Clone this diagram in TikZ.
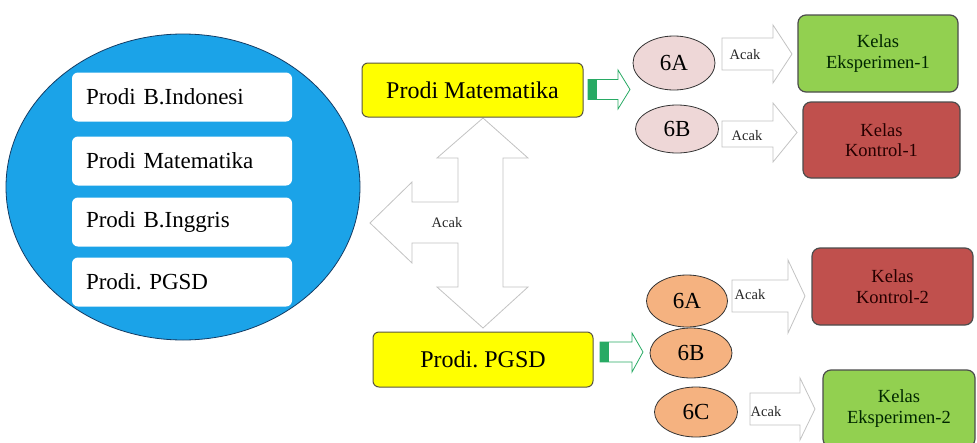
\documentclass[tikz,border=0pt]{standalone}
\usepackage{fontspec}
\setmainfont{Liberation Serif}
\usetikzlibrary{shapes.geometric}
\definecolor{cblue}{RGB}{27,163,232}
\definecolor{cblueline}{RGB}{20,60,100}
\definecolor{cyellow}{RGB}{255,255,0}
\definecolor{cpink}{RGB}{238,215,215}
\definecolor{cpeach}{RGB}{245,178,128}
\definecolor{cgreen}{RGB}{146,208,80}
\definecolor{cred}{RGB}{192,80,77}
\definecolor{carrowgreen}{RGB}{40,170,100}
\definecolor{cgrayline}{RGB}{195,195,195}
\tikzset{
  wbox/.style={rectangle, rounded corners=6pt, fill=white, minimum height=49pt,
    text width=192pt, inner xsep=14pt, align=left, font=\fontsize{23}{25}\selectfont},
  ybox/.style={rectangle, rounded corners=6pt, fill=cyellow, draw=black!75!yellow,
    line width=1pt, font=\fontsize{24}{26}\selectfont},
  cbox/.style={rectangle, rounded corners=8pt, draw=black!70, line width=1.2pt,
    align=center, font=\fontsize{18.5}{20.5}\selectfont},
  oval/.style={ellipse, draw=black!80, line width=0.8pt, inner sep=0pt,
    font=\fontsize{23}{25}\selectfont},
  barrow/.style={draw=cgrayline, fill=white, line width=0.8pt},
  garrow/.style={draw=carrowgreen, fill=white, line width=0.8pt},
  acak/.style={font=\fontsize{14.5}{15}\selectfont, text=black!85, inner sep=0pt}
}
\begin{document}
\frenchspacing
\begin{tikzpicture}[x=1pt,y=-1pt]
\useasboundingbox (0,0) rectangle (977,442);
\fill[white] (0,0) rectangle (977,442);

% big circle with programmes
\node[ellipse, fill=cblue, draw=cblueline, line width=0.8pt, minimum width=354pt,
  minimum height=306pt, inner sep=0pt] (circ) at (183,187) {};
\node[wbox] (p1) at (182,97) {Prodi B.Indonesi};
\node[wbox] (p2) at (182,161) {Prodi Matematika};
\node[wbox] (p3) at (182,222) {Prodi B.Inggris};
\node[wbox] (p4) at (182,282) {Prodi. PGSD};

% three-way block arrow
\draw[barrow] (483,118) -- (528,158) -- (503,158) -- (503,287) -- (528,287)
  -- (483,328) -- (437,287) -- (458,287) -- (458,243) -- (412,243) -- (412,263)
  -- (370,223) -- (412,182) -- (412,202) -- (458,202) -- (458,158) -- (437,158) -- cycle;
\node[acak] (am) at (447,223) {Acak};

% yellow programme boxes
\node[ybox, minimum width=221pt, minimum height=54pt] (ym) at (472.5,90) {Prodi Matematika};
\node[ybox, minimum width=220pt, minimum height=55pt] (yp) at (483,359.5) {Prodi. PGSD};

% small green arrows
\draw[garrow] (588,79.5) -- (618,79.5) -- (618,70) -- (630,89.5) -- (618,109)
  -- (618,99.5) -- (588,99.5) -- cycle;
\fill[carrowgreen] (588.4,79.9) rectangle (597,99.1);
\draw[garrow] (600,342) -- (632,342) -- (632,333) -- (643,352) -- (632,372)
  -- (632,362) -- (600,362) -- cycle;
\fill[carrowgreen] (600.4,342.4) rectangle (609,361.6);

% class ovals
\node[oval, fill=cpink, minimum width=82pt, minimum height=54pt] (u6a) at (674,63) {6A};
\node[oval, fill=cpink, minimum width=83pt, minimum height=48pt] (u6b) at (677,129) {6B};
\node[oval, fill=cpeach, minimum width=81pt, minimum height=52pt] (l6a) at (687,301) {6A};
\node[oval, fill=cpeach, minimum width=82pt, minimum height=50pt] (l6b) at (691,353) {6B};
\node[oval, fill=cpeach, minimum width=83pt, minimum height=50pt] (l6c) at (696,412) {6C};

% Acak arrows
\draw[barrow] (722,38) -- (773,38) -- (773,25) -- (792,54) -- (773,83) -- (773,70) -- (722,70) -- cycle;
\node[acak] (a1) at (745,55) {Acak};
\draw[barrow] (722,121) -- (773,121) -- (773,103) -- (797,132.5) -- (773,162) -- (773,147) -- (722,147) -- cycle;
\node[acak] (a2) at (747,136) {Acak};
\draw[barrow] (732,280) -- (788,280) -- (788,260) -- (805,296) -- (788,333) -- (788,312) -- (732,312) -- cycle;
\node[acak] (a3) at (750,295) {Acak};
\draw[barrow] (750,393) -- (800,393) -- (800,378) -- (815,409) -- (800,440) -- (800,425) -- (750,425) -- cycle;
\node[acak] (a4) at (766,412) {Acak};

% result boxes
\node[cbox, fill=cgreen, text=black!85!green, minimum width=160pt, minimum height=77pt] (k1) at (878,53.5) {Kelas\\Eksperimen-1};
\node[cbox, fill=cred, text=black!85!red, minimum width=157pt, minimum height=76pt] (k2) at (881.5,140) {Kelas\\Kontrol-1};
\node[cbox, fill=cred, text=black!85!red, minimum width=161pt, minimum height=77pt] (k3) at (892.5,286.5) {Kelas\\Kontrol-2};
\node[cbox, fill=cgreen, text=black!85!green, minimum width=152pt, minimum height=77pt] (k4) at (899,408.5) {Kelas\\Eksperimen-2};
\end{tikzpicture}
\end{document}
